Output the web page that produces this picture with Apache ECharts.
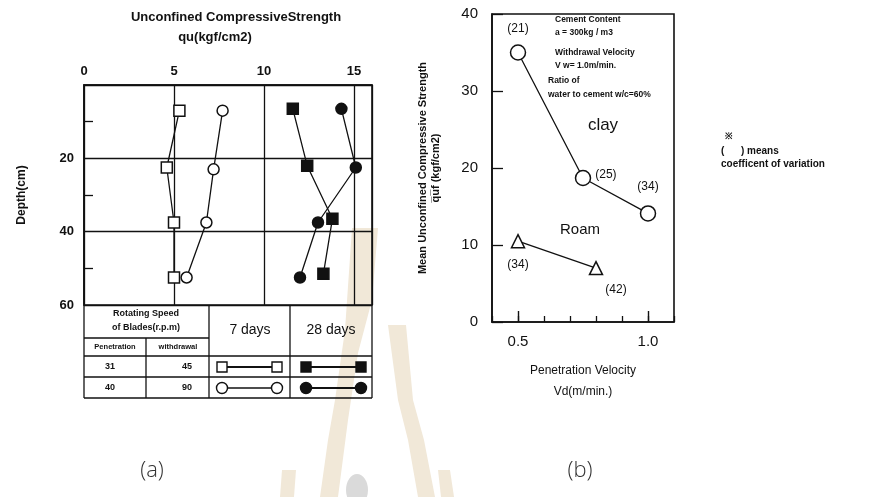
<!DOCTYPE html>
<html>
<head>
<meta charset="utf-8">
<script src="https://cdn.jsdelivr.net/npm/echarts@6/dist/echarts.min.js"></script>
<style>
  html, body { margin: 0; padding: 0; background: #fff; }
  #chart { width: 869px; height: 497px; }
</style>
</head>
<body>
<div id="chart"></div>
<script>
// (a) qu (kgf/cm2) vs depth (cm), pairs are [qu, depth]
const sq7 = [[5.3, 7], [4.6, 22.5], [5.0, 37.5], [5.0, 52.5]];
const ci7 = [[7.7, 7], [7.2, 23], [6.8, 37.5], [5.7, 52.5]];
const sq28 = [[11.6, 6.5], [12.4, 22], [13.8, 36.5], [13.3, 51.5]];
const ci28 = [[14.3, 6.5], [15.1, 22.5], [13.0, 37.5], [12.0, 52.5]];

// (b) mean qu vs penetration velocity
const vdClay = [0.5, 0.75, 1.0];
const quClay = [35.0, 18.7, 14.1];
const cvClay = ["(21)", "(25)", "(34)"];
const vdRoam = [0.5, 0.8];
const quRoam = [10.5, 7.0];
const cvRoam = ["(34)", "(42)"];
const vdMajor = [0.5, 1.0];

const ink = "#111";
const font = "Liberation Sans";

let chart = echarts.init(document.getElementById("chart"));

// label placement for the coefficient of variation tags
const clayLabelPos = [
  { position: "top", distance: 10 },
  { position: "right", distance: 4, offset: [0, -3] },
  { position: "top", distance: 12 },
];
const roamLabelPos = [
  { position: "bottom", distance: 10 },
  { position: "bottom", distance: 8, offset: [20, 0] },
];

function txt(x, y, text, size, extra) {
  return Object.assign({
    type: "text",
    x: x,
    y: y,
    style: Object.assign({
      text: text,
      fill: ink,
      font: (extra && extra.weight ? extra.weight : "bold") + " " + size + "px " + font,
      textAlign: "center",
      textVerticalAlign: "middle",
    }, extra && extra.style ? extra.style : {}),
  }, extra && extra.rotation ? { rotation: extra.rotation } : {});
}
function ln(x1, y1, x2, y2, w) {
  return {
    type: "line",
    shape: { x1: x1, y1: y1, x2: x2, y2: y2 },
    style: { stroke: ink, lineWidth: w || 1.3 },
  };
}
function mark(shape, x, y, filled) {
  if (shape === "rect") {
    return {
      type: "rect",
      shape: { x: x - 5, y: y - 5, width: 10, height: 10 },
      style: { fill: filled ? ink : "#fff", stroke: ink, lineWidth: 1.4 },
      z: 10,
    };
  }
  return {
    type: "circle",
    shape: { cx: x, cy: y, r: 5.5 },
    style: { fill: filled ? ink : "#fff", stroke: ink, lineWidth: 1.4 },
    z: 10,
  };
}

// faint watermark from the scanned page
const wm = "#f1e8d8";
const watermark = [
  { type: "polygon", z: -10, shape: { points: [[352, 228], [378, 228], [372, 300], [358, 353], [348, 420], [338, 497], [320, 497], [328, 440], [335, 400], [345, 330]] }, style: { fill: wm } },
  { type: "polygon", z: -10, shape: { points: [[388, 325], [406, 325], [413, 400], [424, 440], [435, 497], [418, 497], [408, 440], [398, 400]] }, style: { fill: wm } },
  { type: "polygon", z: -10, shape: { points: [[282, 470], [296, 470], [294, 497], [280, 497]] }, style: { fill: wm } },
  { type: "polygon", z: -10, shape: { points: [[438, 470], [450, 470], [454, 497], [441, 497]] }, style: { fill: wm } },
  { type: "ellipse", z: -10, shape: { cx: 357, cy: 490, rx: 11, ry: 16 }, style: { fill: "#dadada" } },
];

const tableGraphic = [
  ln(84, 305, 84, 398), ln(372, 305, 372, 398),
  ln(84, 338, 209, 338),
  ln(84, 356, 372, 356), ln(84, 377, 372, 377), ln(84, 398, 372, 398, 1.6),
  ln(146, 338, 146, 398), ln(209, 305, 209, 398), ln(290, 305, 290, 398),
  txt(146, 314, "Rotating Speed", 9),
  txt(146, 328, "of Blades(r.p.m)", 9),
  txt(115, 347, "Penetration", 7.5),
  txt(178, 347, "withdrawal", 7.5),
  txt(250, 330, "7 days", 14, { weight: "normal" }),
  txt(331, 330, "28 days", 14, { weight: "normal" }),
  txt(110, 367, "31", 9), txt(187, 367, "45", 9),
  txt(110, 388, "40", 9), txt(187, 388, "90", 9),
  ln(222, 367, 277, 367, 2), mark("rect", 222, 367, false), mark("rect", 277, 367, false),
  ln(306, 367, 361, 367, 2.2), mark("rect", 306, 367, true), mark("rect", 361, 367, true),
  ln(222, 388, 277, 388), mark("circle", 222, 388, false), mark("circle", 277, 388, false),
  ln(306, 388, 361, 388, 2), mark("circle", 306, 388, true), mark("circle", 361, 388, true),
];

const noteGraphic = [
  txt(236, 17, "Unconfined CompressiveStrength", 13),
  txt(215, 37, "qu(kgf/cm2)", 13),
  txt(555, 20, "Cement Content", 8.5, { style: { textAlign: "left" } }),
  txt(555, 33, "a = 300kg / m3", 8.5, { style: { textAlign: "left" } }),
  txt(555, 53, "Withdrawal Velocity", 8.5, { style: { textAlign: "left" } }),
  txt(555, 66, "V w= 1.0m/min.", 8.5, { style: { textAlign: "left" } }),
  txt(548, 81, "Ratio of", 8.5, { style: { textAlign: "left" } }),
  txt(548, 95, "water to cement w/c=60%", 8.5, { style: { textAlign: "left" } }),
  txt(603, 125, "clay", 17, { weight: "normal" }),
  txt(580, 230, "Roam", 15, { weight: "normal" }),
  txt(725, 137, "※", 9, { style: { textAlign: "left" } }),
  txt(721, 151, "(      ) means", 10, { style: { textAlign: "left" } }),
  txt(721, 164, "coefficent of variation", 10, { style: { textAlign: "left" } }),
  {
    type: "text", x: 152, y: 471,
    style: { text: "(a)", fill: "#333", font: "300 22px 'Open Sans'", textAlign: "center", textVerticalAlign: "middle" },
  },
  {
    type: "text", x: 580, y: 471,
    style: { text: "(b)", fill: "#333", font: "300 22px 'Open Sans'", textAlign: "center", textVerticalAlign: "middle" },
  },
];

const openSym = { color: "#fff", borderColor: ink, borderWidth: 1.5 };
const fillSym = { color: ink, borderColor: ink, borderWidth: 1.5 };
const lineSty = { color: ink, width: 1.3 };

chart.setOption({
  animation: false,
  backgroundColor: "#fff",
  textStyle: { fontFamily: font, color: ink },
  grid: [
    { left: 84, top: 85, width: 288, height: 220, show: true, borderColor: ink, borderWidth: 1.6 },
    { left: 492, top: 14, width: 182, height: 308, show: true, borderColor: ink, borderWidth: 1.6 },
  ],
  xAxis: [
    {
      type: "value",
      gridIndex: 0,
      position: "top",
      min: 0,
      max: 16,
      interval: 5,
      axisLine: { show: true, lineStyle: { color: ink, width: 1.6 } },
      axisTick: { show: false },
      axisLabel: { showMaxLabel: false, fontSize: 13, fontWeight: "bold", color: ink, margin: 7 },
      splitLine: { show: true, lineStyle: { color: ink, width: 1.3 } },
    },
    {
      type: "value",
      gridIndex: 1,
      position: "bottom",
      min: 0.4,
      max: 1.1,
      interval: 0.1,
      axisLine: { show: true, onZero: false, lineStyle: { color: ink, width: 1.6 } },
      axisTick: { show: true, inside: true, length: 6, lineStyle: { color: ink, width: 1.3 } },
      axisLabel: {
        fontSize: 15,
        color: ink,
        margin: 12,
        formatter: (v) => (Math.abs(v - 0.5) < 1e-6 ? "0.5" : Math.abs(v - 1) < 1e-6 ? "1.0" : ""),
      },
      splitLine: { show: false },
      name: "Penetration Velocity\nVd(m/min.)",
      nameLocation: "middle",
      nameGap: 38,
      nameTextStyle: { fontSize: 12, lineHeight: 21, color: ink },
    },
    {
      // longer ticks at the labelled values
      type: "value",
      gridIndex: 1,
      position: "bottom",
      min: 0.4,
      max: 1.1,
      axisLine: { show: false, onZero: false },
      axisTick: { show: true, inside: true, length: 11, customValues: vdMajor, lineStyle: { color: ink, width: 1.4 } },
      axisLabel: { show: false },
      splitLine: { show: false },
    },
  ],
  yAxis: [
    {
      type: "value",
      gridIndex: 0,
      inverse: true,
      min: 0,
      max: 60,
      interval: 20,
      axisLine: { show: true, lineStyle: { color: ink, width: 1.6 } },
      axisTick: { show: false, inside: true },
      minorTick: { show: true, splitNumber: 2, length: 9, lineStyle: { color: ink, width: 1.3 } },
      axisLabel: { showMinLabel: false, fontSize: 13, fontWeight: "bold", color: ink, margin: 10 },
      splitLine: { show: true, lineStyle: { color: ink, width: 1.3 } },
      name: "Depth(cm)",
      nameLocation: "middle",
      nameGap: 56,
      nameTextStyle: { fontSize: 12, fontWeight: "bold", color: ink },
    },
    {
      type: "value",
      gridIndex: 1,
      min: 0,
      max: 40,
      interval: 10,
      axisLine: { show: true, onZero: false, lineStyle: { color: ink, width: 1.6 } },
      axisTick: { show: true, inside: true, length: 11, lineStyle: { color: ink, width: 1.3 } },
      axisLabel: { fontSize: 15, color: ink, margin: 14 },
      splitLine: { show: false },
      name: "Mean Unconfined Compressive Strength\nq\u0305u\u0305f (kgf/cm2)",
      nameLocation: "middle",
      nameGap: 50,
      nameTextStyle: { fontSize: 11, fontWeight: "bold", lineHeight: 13, color: ink },
    },
  ],
  series: [
    {
      name: "7 days 31/45", type: "line", xAxisIndex: 0, yAxisIndex: 0,
      data: sq7, symbol: "rect", symbolSize: 11,
      itemStyle: openSym, lineStyle: lineSty,
    },
    {
      name: "7 days 40/90", type: "line", xAxisIndex: 0, yAxisIndex: 0,
      data: ci7, symbol: "circle", symbolSize: 11,
      itemStyle: openSym, lineStyle: lineSty,
    },
    {
      name: "28 days 31/45", type: "line", xAxisIndex: 0, yAxisIndex: 0,
      data: sq28, symbol: "rect", symbolSize: 11,
      itemStyle: fillSym, lineStyle: lineSty,
    },
    {
      name: "28 days 40/90", type: "line", xAxisIndex: 0, yAxisIndex: 0,
      data: ci28, symbol: "circle", symbolSize: 11,
      itemStyle: fillSym, lineStyle: lineSty,
    },
    {
      name: "clay", type: "line", xAxisIndex: 1, yAxisIndex: 1,
      data: vdClay.map((v, i) => ({
        value: [v, quClay[i]],
        label: Object.assign({ show: true, formatter: cvClay[i] }, clayLabelPos[i]),
      })),
      symbol: "circle", symbolSize: 15,
      itemStyle: openSym, lineStyle: lineSty,
      label: { fontSize: 12, color: ink, fontFamily: font },
    },
    {
      name: "Roam", type: "line", xAxisIndex: 1, yAxisIndex: 1,
      data: vdRoam.map((v, i) => ({
        value: [v, quRoam[i]],
        label: Object.assign({ show: true, formatter: cvRoam[i] }, roamLabelPos[i]),
      })),
      symbol: "triangle", symbolSize: 13,
      itemStyle: openSym, lineStyle: lineSty,
      label: { fontSize: 12, color: ink, fontFamily: font },
    },
  ],
  graphic: watermark.concat(tableGraphic, noteGraphic),
});
</script>
</body>
</html>
